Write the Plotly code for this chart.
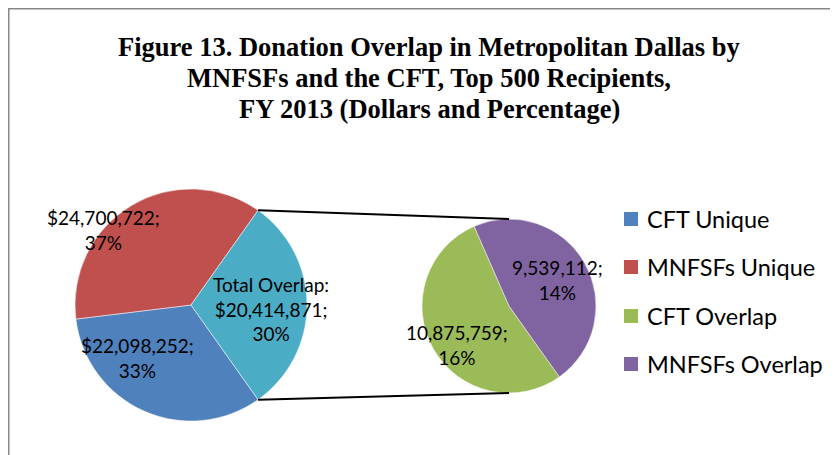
import math
import plotly.graph_objects as go

W, H = 838, 455
OFF = 8  # page body margin offset

# ---------------- data ----------------
main_labels = ["CFT Unique", "MNFSFs Unique", "Total Overlap"]
main_values = [22098252, 24700722, 20414871]
main_colors = ["#4F81BD", "#C0504D", "#4BACC6"]

sub_labels = ["CFT Overlap", "MNFSFs Overlap"]
sub_values = [10875759, 9539112]
sub_colors = ["#9BBB59", "#8064A2"]

legend_labels = ["CFT Unique", "MNFSFs Unique", "CFT Overlap", "MNFSFs Overlap"]
legend_colors = ["#4F81BD", "#C0504D", "#9BBB59", "#8064A2"]

title_lines = [
    "Figure 13. Donation Overlap in Metropolitan Dallas by",
    "MNFSFs and the CFT, Top 500 Recipients,",
    "FY 2013 (Dollars and Percentage)",
]

total = sum(main_values)


def px(x):
    return (x - OFF) / W


def py(y):
    return 1 - (y - OFF) / H


# geometry (page pixels)
L_CX, L_CY, L_R = 191, 305, 116
R_CX, R_CY, R_R = 509, 306, 87

ov_angle = main_values[2] / total * 360
left_rot = 90 + ov_angle / 2

right_rot = 144.6

fig = go.Figure()

fig.add_trace(go.Pie(
    labels=main_labels, values=main_values, sort=False, direction="clockwise",
    rotation=left_rot, marker=dict(colors=main_colors, line=dict(color="white", width=0.5)),
    textinfo="none", hoverinfo="label+value+percent", showlegend=False,
    domain=dict(x=[px(L_CX - L_R), px(L_CX + L_R)], y=[py(L_CY + L_R), py(L_CY - L_R)]),
))

fig.add_trace(go.Pie(
    labels=sub_labels, values=sub_values, sort=False, direction="clockwise",
    rotation=right_rot, marker=dict(colors=sub_colors, line=dict(color="white", width=0.5)),
    textinfo="none", hoverinfo="label+value", showlegend=False,
    domain=dict(x=[px(R_CX - R_R), px(R_CX + R_R)], y=[py(R_CY + R_R), py(R_CY - R_R)]),
))

label_font = dict(family="Lato", size=19, color="black")


def pct(v):
    return f"{round(v / total * 100)}%"


annos = []
annos.append(dict(x=px(103), y=py(230), text=f"${main_values[1]:,};<br>{pct(main_values[1])}"))
annos.append(dict(x=px(137), y=py(358), text=f"${main_values[0]:,};<br>{pct(main_values[0])}"))
annos.append(dict(x=px(271), y=py(309), text=f"{main_labels[2]}:<br>${main_values[2]:,};<br>{pct(main_values[2])}"))
annos.append(dict(x=px(557), y=py(280), text=f"{sub_values[1]:,};<br>{pct(sub_values[1])}"))
annos.append(dict(x=px(457), y=py(345), text=f"{sub_values[0]:,};<br>{pct(sub_values[0])}"))
for a in annos:
    a.update(xref="paper", yref="paper", showarrow=False, font=label_font,
             xanchor="center", yanchor="middle", align="center")

# title, one annotation per line
for t, yy in zip(title_lines, [47, 78, 109]):
    annos.append(dict(x=px(429), y=py(yy), xref="paper", yref="paper", showarrow=False,
                      text=f"<b>{t}</b>",
                      font=dict(family="Liberation Serif", size=26.5, color="black"),
                      xanchor="center", yanchor="middle"))

shapes = []
leg_y = [219, 267, 316, 364]
for lab, col, yy in zip(legend_labels, legend_colors, leg_y):
    shapes.append(dict(type="rect", xref="paper", yref="paper",
                       x0=px(624), x1=px(638), y0=py(yy + 7), y1=py(yy - 7),
                       fillcolor=col, line=dict(width=0)))
    annos.append(dict(x=px(645), y=py(yy), xref="paper", yref="paper", showarrow=False,
                      text=lab, font=dict(family="Lato", size=23.5, color="black"),
                      xanchor="left", yanchor="middle"))

a_top = math.radians(ov_angle / 2)
a_bot = math.radians(-ov_angle / 2)
tx, ty = L_CX + L_R * math.cos(a_top), L_CY - L_R * math.sin(a_top)
bx, by = L_CX + L_R * math.cos(a_bot), L_CY - L_R * math.sin(a_bot)
shapes.append(dict(type="line", xref="paper", yref="paper", x0=px(tx), y0=py(ty),
                   x1=px(R_CX), y1=py(R_CY - R_R), line=dict(color="black", width=2)))
shapes.append(dict(type="line", xref="paper", yref="paper", x0=px(bx), y0=py(by),
                   x1=px(R_CX), y1=py(R_CY + R_R), line=dict(color="black", width=2)))

# chart frame
shapes.append(dict(type="rect", xref="paper", yref="paper", x0=px(8.5), y0=-0.05,
                   x1=1.05, y1=py(8.5), line=dict(color="#878787", width=2),
                   fillcolor="rgba(0,0,0,0)"))

fig.update_layout(
    width=W, height=H, margin=dict(l=0, r=0, t=0, b=0),
    paper_bgcolor="white", plot_bgcolor="white",
    annotations=annos, shapes=shapes, showlegend=False,
)

fig.write_html("out.html")
